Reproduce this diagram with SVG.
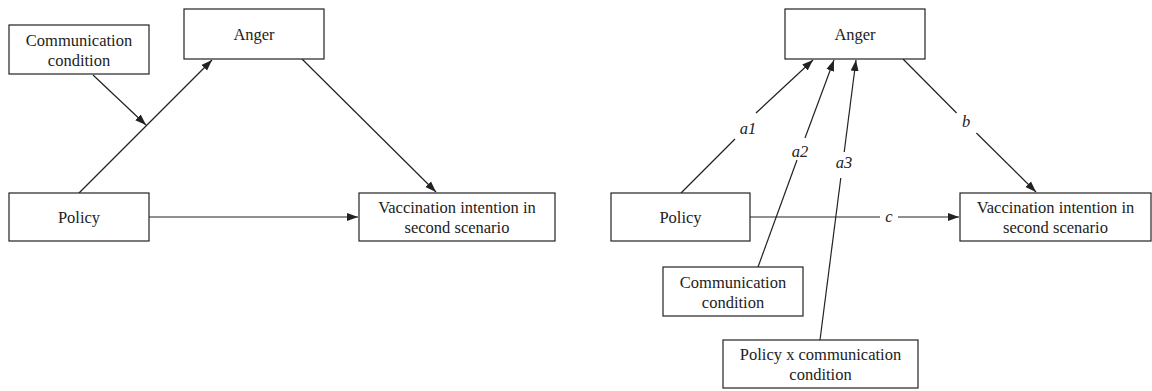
<svg xmlns="http://www.w3.org/2000/svg" width="1152" height="391" viewBox="0 0 1152 391">
<style>
.box{fill:#fff;stroke:#222;stroke-width:1.2}
text{font-family:'Liberation Serif','DejaVu Serif',serif;font-size:16.5px;fill:#222;text-anchor:middle}
.lbl{font-style:italic}
.e{stroke:#222;stroke-width:1.2;fill:none}
.a{marker-end:url(#ah)}
</style>
<defs>
<marker id="ah" markerUnits="userSpaceOnUse" markerWidth="12" markerHeight="10" viewBox="0 0 12 10" refX="11" refY="5" orient="auto">
<path d="M0,1 L11,5 L0,9 Z" fill="#222"/>
</marker>
</defs>
<rect width="1152" height="391" fill="#fff"/>
<g id="connectors">
<line class="e a" x1="79" y1="193" x2="212" y2="60"/>
<line class="e a" x1="93" y1="75" x2="146" y2="125"/>
<line class="e a" x1="302" y1="59" x2="436" y2="192"/>
<line class="e a" x1="149" y1="217" x2="358" y2="217"/>
<line class="e" x1="681" y1="193" x2="735" y2="139"/>
<line class="e a" x1="756" y1="113" x2="813" y2="60"/>
<line class="e" x1="758" y1="267" x2="797" y2="160"/>
<line class="e a" x1="805" y1="138" x2="834" y2="60"/>
<line class="e" x1="820" y1="340" x2="840.8" y2="178"/>
<line class="e a" x1="844.2" y1="152" x2="856" y2="60"/>
<line class="e" x1="903" y1="59" x2="956.6" y2="113"/>
<line class="e a" x1="976.4" y1="133" x2="1036" y2="192"/>
<line class="e" x1="750" y1="217" x2="880" y2="217"/>
<line class="e a" x1="898" y1="217" x2="959" y2="217"/>
<text class="lbl" font-family="Liberation Serif, serif" x="748" y="134">a1</text>
<text class="lbl" font-family="Liberation Serif, serif" x="800" y="157">a2</text>
<text class="lbl" font-family="Liberation Serif, serif" x="844" y="168">a3</text>
<text class="lbl" font-family="Liberation Serif, serif" x="966" y="127">b</text>
<text class="lbl" font-family="Liberation Serif, serif" x="889" y="222">c</text>
</g>
<g id="l-comm"><rect class="box" x="9" y="25" width="140" height="49"/><text x="79" y="46">Communication</text><text x="79" y="66">condition</text></g>
<g id="l-anger"><rect class="box" x="184" y="9" width="140" height="50"/><text x="254" y="40">Anger</text></g>
<g id="l-policy"><rect class="box" x="9" y="193" width="140" height="48"/><text x="79" y="223">Policy</text></g>
<g id="l-vacc"><rect class="box" x="359" y="193" width="196" height="48"/><text x="457" y="213">Vaccination intention in</text><text x="457" y="233">second scenario</text></g>
<g id="r-anger"><rect class="box" x="785" y="9" width="140" height="50"/><text x="855" y="40">Anger</text></g>
<g id="r-policy"><rect class="box" x="611" y="193" width="139" height="48"/><text x="680.5" y="223">Policy</text></g>
<g id="r-vacc"><rect class="box" x="960" y="193" width="191" height="48"/><text x="1055.5" y="213">Vaccination intention in</text><text x="1055.5" y="233">second scenario</text></g>
<g id="r-comm"><rect class="box" x="663" y="267" width="140" height="49"/><text x="733" y="287.5">Communication</text><text x="733" y="307.5">condition</text></g>
<g id="r-interact"><rect class="box" x="723" y="340" width="195" height="48"/><text x="820.5" y="360">Policy x communication</text><text x="820.5" y="380">condition</text></g>
</svg>
